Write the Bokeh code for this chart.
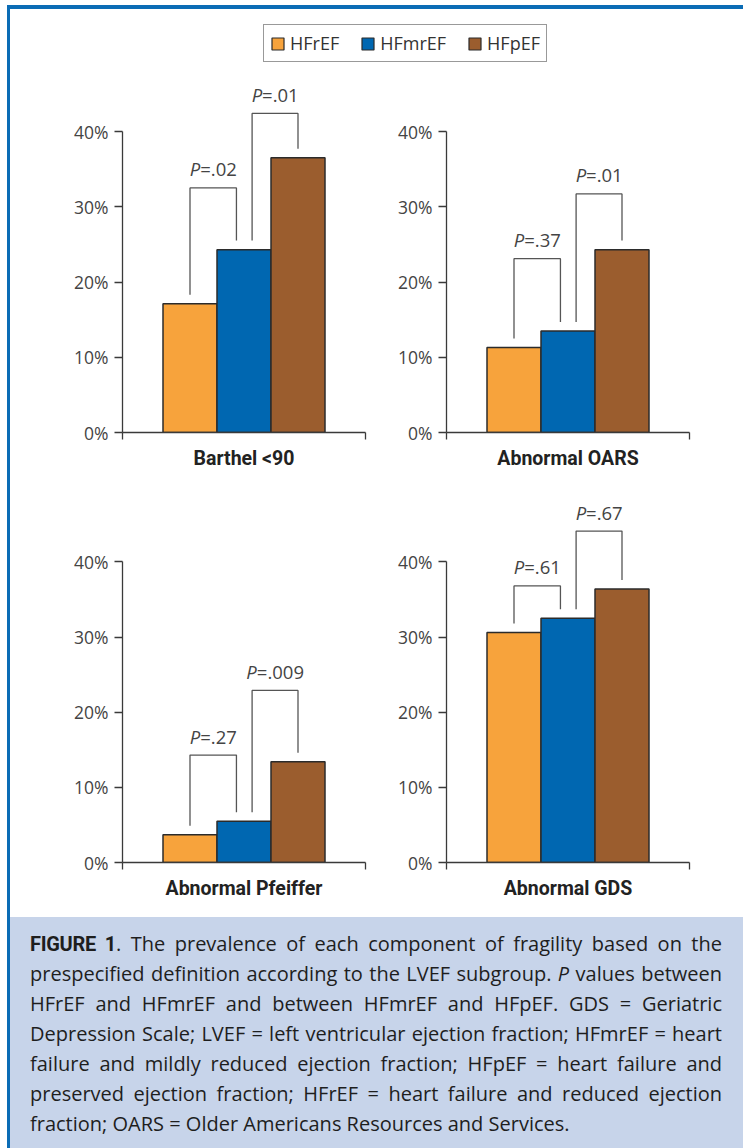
from bokeh.plotting import figure
from bokeh.models import Range1d, FixedTicker, Legend, LegendItem, Div, CustomLabelingPolicy
from bokeh.layouts import column, row
from bokeh.embed import file_html
from bokeh.resources import INLINE
from bokeh.core.properties import value

# ---------------- data ----------------
groups = ["HFrEF", "HFmrEF", "HFpEF"]
colors = ["#F7A33C", "#0067B1", "#9B5D2E"]
panels = ["Barthel <90", "Abnormal OARS", "Abnormal Pfeiffer", "Abnormal GDS"]
barthel = [17.1, 24.3, 36.5]
oars = [11.3, 13.5, 24.3]
pfeiffer = [3.7, 5.5, 13.4]
gds = [30.6, 32.5, 36.4]
p_first = [".02", ".37", ".27", ".61"]    # HFrEF vs HFmrEF
p_second = [".01", ".01", ".009", ".67"]  # HFmrEF vs HFpEF
bracket_first = [32.5, 23.1, 14.3, 36.8]
bracket_second = [42.4, 31.7, 22.9, 44.1]
ytick_values = [0, 10, 20, 30, 40]
ytick_labels = ["0%", "10%", "20%", "30%", "40%"]
caption_lines = [
    '<b style="font-family:Roboto;letter-spacing:-0.3px">FIGURE 1</b>. The prevalence of each component of fragility based on the',
    'prespecified definition according to the LVEF subgroup. <i>P</i> values between',
    'HFrEF and HFmrEF and between HFmrEF and HFpEF. GDS = Geriatric',
    'Depression Scale; LVEF = left ventricular ejection fraction; HFmrEF = heart',
    'failure and mildly reduced ejection fraction; HFpEF = heart failure and',
    'preserved ejection fraction; HFrEF = heart failure and reduced ejection',
    'fraction; OARS = Older Americans Resources and Services.',
]

series = [barthel, oars, pfeiffer, gds]

FONT = "Open Sans"
TXT = "#444444"
AX = "#3a3a3a"
BLUE = "#0b6cb5"
P_SIZE = 18.5
CW = {"=": 0.571, ".": 0.266}


def width_px(s):
    return sum(CW.get(ch, 0.571) for ch in s) * P_SIZE


def make_panel(idx, w, h, left, right, top, bottom, y_end):
    vals = series[idx]
    p = figure(width=w, height=h, x_range=Range1d(-0.25, 4.25), y_range=Range1d(0, y_end),
               output_backend="svg", toolbar_location=None,
               min_border_left=left, min_border_right=right,
               min_border_top=top, min_border_bottom=bottom,
               outline_line_color=None, background_fill_color="white")
    p.grid.visible = False
    xs = list(range(1, len(groups) + 1))
    p.vbar(x=xs, top=vals, bottom=0, width=1, fill_color=colors,
           line_color="#2b2b2b", line_width=1.5)

    # brackets
    gap = 1.2
    b1, b2 = bracket_first[idx], bracket_second[idx]
    xa0, xa1 = xs[0], xs[1] - 0.14
    xb0, xb1 = xs[1] + 0.15, xs[2]
    p.multi_line(xs=[[xa0, xa0, xa1, xa1], [xb0, xb0, xb1, xb1]],
                 ys=[[vals[0] + gap, b1, b1, vals[1] + gap],
                     [vals[1] + gap, b2, b2, vals[2] + gap]],
                 line_color="#555555", line_width=1.3)
    wP = 0.58 * P_SIZE
    for (xl, xr, lev, pv) in [(xa0, xa1, b1, p_first[idx]), (xb0, xb1, b2, p_second[idx])]:
        cx = (xl + xr) / 2
        off = (wP - width_px("=" + pv)) / 2
        p.text(x=[cx], y=[lev], text=["P"], text_align="right", text_baseline="middle",
               x_offset=off, y_offset=-19, text_font=value(FONT), text_font_style="italic",
               text_font_size=f"{P_SIZE}px", text_color=TXT)
        p.text(x=[cx], y=[lev], text=["=" + pv], text_align="left", text_baseline="middle",
               x_offset=off, y_offset=-19, text_font=value(FONT),
               text_font_size=f"{P_SIZE}px", text_color=TXT)

    ya = p.yaxis[0]
    ya.ticker = FixedTicker(ticks=ytick_values)
    ya.major_label_overrides = {v: l for v, l in zip(ytick_values, ytick_labels)}
    ya.bounds = (0, 40)
    ya.minor_tick_line_color = None
    ya.major_tick_in = 0
    ya.major_tick_out = 8
    ya.major_label_standoff = 6
    ya.axis_line_color = AX
    ya.axis_line_width = 1.3
    ya.major_tick_line_color = AX
    ya.major_tick_line_width = 1.3
    ya.major_label_text_font = FONT
    ya.major_label_text_font_size = "17.5px"
    ya.major_label_text_color = TXT

    xa = p.xaxis[0]
    xa.ticker = FixedTicker(ticks=[-0.25, 4.25])
    xa.major_label_policy = CustomLabelingPolicy(code="return []")
    xa.major_label_text_font_size = "0px"
    xa.major_label_standoff = 0
    xa.minor_tick_line_color = None
    xa.major_tick_in = 0
    xa.major_tick_out = 7
    xa.axis_line_color = AX
    xa.axis_line_width = 1.3
    xa.major_tick_line_color = AX
    xa.major_tick_line_width = 1.3
    xa.axis_label = panels[idx]
    xa.axis_label_standoff = 7
    xa.axis_label_text_font = "Roboto"
    xa.axis_label_text_font_style = "bold"
    xa.axis_label_text_font_size = "19.5px"
    xa.axis_label_text_color = "#222222"
    return p


# rows
p1 = make_panel(0, 367, 410, 112, 12, 10, 48, 352 / 7.525)
p2 = make_panel(1, 366, 410, 69, 54, 10, 48, 352 / 7.525)
p3 = make_panel(2, 367, 437, 112, 12, 20, 55, 362 / 7.515)
p4 = make_panel(3, 366, 437, 69, 54, 20, 55, 362 / 7.515)

# legend figure
lf = figure(width=733, height=61, x_range=Range1d(0, 1), y_range=Range1d(0, 1),
            output_backend="svg", toolbar_location=None, min_border=0,
            outline_line_color=None, x_axis_type=None, y_axis_type=None)
lf.grid.visible = False
items = []
nan = float("nan")
for g, c in zip(groups, colors):
    r = lf.vbar(x=[nan], top=[nan], width=1, fill_color=c, line_color="#2b2b2b", line_width=1.2)
    items.append(LegendItem(label=g, renderers=[r]))
leg = Legend(items=items, orientation="horizontal", location=(253, 8), margin=0,
             padding=6, spacing=21, label_standoff=5, glyph_width=15, glyph_height=15,
             label_height=14,
             label_text_font=FONT, label_text_font_size="18px", label_text_color="#333333",
             border_line_color="#333333", border_line_width=1, background_fill_color="white")
lf.add_layout(leg, "center")

# caption
line_html = []
for i, ln in enumerate(caption_lines):
    last = "justify" if i < len(caption_lines) - 1 else "left"
    line_html.append(f'<div style="white-space:nowrap;text-align:justify;text-align-last:{last}">{ln}</div>')
cap_html = ('<div style="box-sizing:border-box;width:733px;height:231px;background:#c7d4ea;'
            'padding:12px 21px 0 20px;font-family:\'Open Sans\';font-size:20px;line-height:30px;'
            'color:#1e1e1e">' + "".join(line_html) + '</div>')
caption = Div(text=cap_html, width=733, height=231, margin=0)

top_stripe = Div(text="", width=736, height=4, margin=0, styles={"background-color": BLUE})
left_stripe = Div(text="", width=3, height=1139, margin=0, styles={"background-color": BLUE})
top_space = Div(text="", width=743, height=5, margin=0)
left_space = Div(text="", width=7, height=1143, margin=0)

content = column(lf, row(p1, p2), row(p3, p4), caption)
framed = column(top_stripe, row(left_stripe, content))
layout = column(top_space, row(left_space, framed))

open("out.html", "w").write(file_html(layout, INLINE))
